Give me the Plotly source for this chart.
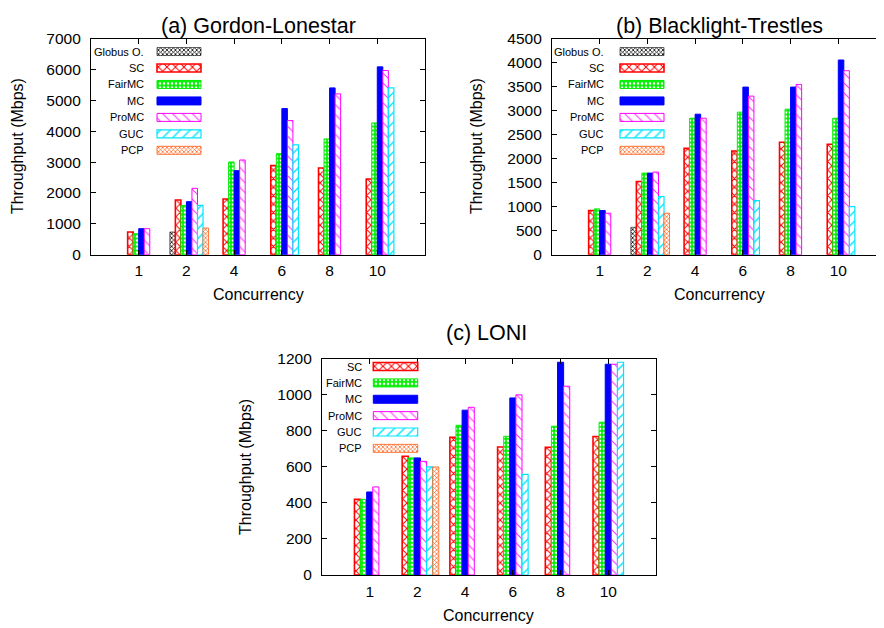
import plotly.graph_objects as go

# ---------------- data ----------------
categories = ["1", "2", "4", "6", "8", "10"]
series_names = ["Globus O.", "SC", "FairMC", "MC", "ProMC", "GUC", "PCP"]

# (a) Gordon-Lonestar
gl_globus = [None, 735, None, None, None, None]
gl_sc = [735, 1772, 1804, 2884, 2809, 2452]
gl_fairmc = [680, 1599, 3003, 3273, 3749, 4267]
gl_mc = [843, 1718, 2722, 4732, 5401, 6082]
gl_promc = [843, 2150, 3068, 4343, 5207, 5963]
gl_guc = [None, 1599, None, 3554, None, 5401]
gl_pcp = [None, 864, None, None, None, None]

# (b) Blacklight-Trestles
bt_globus = [None, 571, None, None, None, None]
bt_sc = [919, 1525, 2214, 2159, 2340, 2298]
bt_fairmc = [954, 1699, 2841, 2967, 3029, 2841]
bt_mc = [919, 1699, 2925, 3489, 3489, 4053]
bt_promc = [864, 1720, 2841, 3301, 3545, 3830]
bt_guc = [None, 1212, None, 1128, None, 1003]
bt_pcp = [None, 864, None, None, None, None]

# (c) LONI
lo_sc = [420, 659, 765, 711, 709, 769]
lo_fairmc = [420, 650, 831, 770, 826, 848]
lo_mc = [461, 650, 915, 983, 1181, 1170]
lo_promc = [489, 631, 931, 1000, 1048, 1170]
lo_guc = [None, 600, None, 559, None, 1181]
lo_pcp = [None, 600, None, None, None, None]

panel_titles = ["(a) Gordon-Lonestar", "(b) Blacklight-Trestles", "(c) LONI"]
x_title = "Concurrency"
y_title = "Throughput (Mbps)"

# ---------------- geometry helpers ----------------
W, H = 884, 628
OX, OY, SY = 8, 17.5, 0.972   # offset / vertical factor observed in the rendered snapshot
FONT = "Liberation Sans, Arial, Helvetica, sans-serif"


def fx(x):  # target pixel -> figure pixel
    return x - OX


def fy(y):
    return (y - OY) / SY


def paper_x(x):
    return fx(x) / W


def paper_y(y):
    return 1 - fy(y) / H


def dom_x(a, b):
    return [max(paper_x(a), 0.0), min(paper_x(b), 1.0)]


def dom_y(top, bottom):
    return [max(paper_y(bottom), 0.0), min(paper_y(top), 1.0)]


styles = {
    "Globus O.": dict(color="#000000", shape="x", size=3, solidity=0.45, fg="#000000", bg="#ffffff", lw=0.6),
    "SC": dict(color="#ff0000", shape="x", size=6, solidity=0.3, fg="#ff0000", bg="#ffffff", lw=1.6),
    "FairMC": dict(color="#00ee00", shape=".", size=4, solidity=0.35, fg="#ffffff", bg="#00ee00", lw=1.0),
    "MC": dict(color="#0000ff", shape="", size=6, solidity=0.3, fg="#0000ff", bg="#0000ff", lw=1.0),
    "ProMC": dict(color="#ff00ff", shape="\\", size=7, solidity=0.15, fg="#ff33ff", bg="#ffffff", lw=1.0),
    "GUC": dict(color="#00e5ff", shape="/", size=7, solidity=0.2, fg="#00e5ff", bg="#ffffff", lw=1.2),
    "PCP": dict(color="#ff5a10", shape="x", size=3, solidity=0.4, fg="#ff5a10", bg="#ffffff", lw=0.8),
}


def marker_for(name):
    s = styles[name]
    m = dict(color=s["bg"], line=dict(color=s["color"], width=s["lw"]))
    if s["shape"]:
        m["pattern"] = dict(shape=s["shape"], size=s["size"], solidity=s["solidity"],
                            fgcolor=s["fg"], bgcolor=s["bg"], fillmode="replace")
    return m


fig = go.Figure()

panels = [
    dict(x="x", y="y", data=[gl_globus, gl_sc, gl_fairmc, gl_mc, gl_promc, gl_guc, gl_pcp],
         w=0.1159, center=3.0),
    dict(x="x2", y="y2", data=[bt_globus, bt_sc, bt_fairmc, bt_mc, bt_promc, bt_guc, bt_pcp],
         w=0.1159, center=3.0),
    dict(x="x3", y="y3", data=[None, lo_sc, lo_fairmc, lo_mc, lo_promc, lo_guc, lo_pcp],
         w=0.128, center=3.5),
]
for p in panels:
    for j, (name, vals) in enumerate(zip(series_names, p["data"])):
        if vals is None:
            continue
        fig.add_trace(go.Bar(
            x=categories, y=vals, xaxis=p["x"], yaxis=p["y"], width=p["w"],
            offset=(j - p["center"]) * p["w"], marker=marker_for(name),
            showlegend=False, hoverinfo="skip", name=name,
        ))

# ---------------- custom legends: one small pixel-scaled axis pair per panel ----------------
legend_specs = [
    dict(ax="4", names=series_names, text_right=146, sw_x0=157, sw_x1=201, y0=52.0, step=16.45,
         box=(150, 210, 42, 160)),
    dict(ax="5", names=series_names, text_right=605.5, sw_x0=620, sw_x1=664, y0=52.0, step=16.45,
         box=(612, 672, 42, 160)),
    dict(ax="6", names=series_names[1:], text_right=363.5, sw_x0=373.3, sw_x1=417.7, y0=366.7,
         step=16.35, box=(366, 426, 358, 460)),
]
annotations = []
legend_axes = {}
for spec in legend_specs:
    bx0, bx1, by0, by1 = spec["box"]
    legend_axes["xaxis" + spec["ax"]] = dict(domain=dom_x(bx0, bx1), anchor="y" + spec["ax"],
                                             range=[bx0, bx1], visible=False, fixedrange=True)
    legend_axes["yaxis" + spec["ax"]] = dict(domain=dom_y(by0, by1), anchor="x" + spec["ax"],
                                             range=[by1, by0], visible=False, fixedrange=True)
    for k, name in enumerate(spec["names"]):
        yc = spec["y0"] + k * spec["step"]
        fig.add_trace(go.Bar(
            x=[spec["sw_x1"] - spec["sw_x0"]], base=[spec["sw_x0"]], y=[yc],
            orientation="h", width=8, offset=-4,
            xaxis="x" + spec["ax"], yaxis="y" + spec["ax"],
            marker=marker_for(name), showlegend=False, hoverinfo="skip", name=name,
        ))
        annotations.append(dict(
            x=paper_x(spec["text_right"]), y=paper_y(yc), xref="paper", yref="paper", text=name,
            showarrow=False, xanchor="right", yanchor="middle",
            font=dict(family=FONT, size=11, color="black"),
        ))

for txt, xc, yc in [(panel_titles[0], 258, 26.5), (panel_titles[1], 719, 26.5), (panel_titles[2], 487, 333)]:
    annotations.append(dict(x=paper_x(xc), y=paper_y(yc), xref="paper", yref="paper", text=txt,
                            showarrow=False, xanchor="center", yanchor="middle",
                            font=dict(family=FONT, size=21.5, color="black")))
for xc, yc in [(258, 295), (719, 295), (489, 615)]:
    annotations.append(dict(x=paper_x(xc), y=paper_y(yc), xref="paper", yref="paper", text=x_title,
                            showarrow=False, xanchor="center", yanchor="middle",
                            font=dict(family=FONT, size=16, color="black")))
for xc, yc in [(17.5, 147), (476.5, 147), (246, 467)]:
    annotations.append(dict(x=paper_x(xc), y=paper_y(yc), xref="paper", yref="paper", text=y_title,
                            showarrow=False, xanchor="center", yanchor="middle", textangle=-90,
                            font=dict(family=FONT, size=16, color="black")))

common_x = dict(type="category", categoryorder="array", categoryarray=categories,
                showline=True, linecolor="black", linewidth=1.2, mirror="ticks",
                ticks="inside", ticklen=5, tickcolor="black", showgrid=False, zeroline=False,
                tickfont=dict(family=FONT, size=15.5, color="black"), ticklabelstandoff=2,
                fixedrange=True, range=[-1, 6])
common_y = dict(showline=True, linecolor="black", linewidth=1.2, mirror="ticks",
                ticks="inside", ticklen=5, tickcolor="black", showgrid=False, zeroline=False,
                tickfont=dict(family=FONT, size=15.5, color="black"), ticklabelstandoff=6,
                fixedrange=True)

fig.update_layout(
    width=W, height=H, margin=dict(l=0, r=0, t=0, b=0),
    paper_bgcolor="white", plot_bgcolor="rgba(0,0,0,0)", barmode="group", showlegend=False,
    xaxis=dict(common_x, domain=dom_x(91, 425), anchor="y"),
    yaxis=dict(common_y, domain=dom_y(39, 255), anchor="x", range=[0, 7000], dtick=1000),
    xaxis2=dict(common_x, domain=dom_x(552, 886), anchor="y2"),
    yaxis2=dict(common_y, domain=dom_y(39, 255), anchor="x2", range=[0, 4500], dtick=500),
    xaxis3=dict(common_x, domain=dom_x(322, 656), anchor="y3"),
    yaxis3=dict(common_y, domain=dom_y(359, 575), anchor="x3", range=[0, 1200], dtick=200),
    annotations=annotations,
    **legend_axes,
)

fig.write_html("out.html")
